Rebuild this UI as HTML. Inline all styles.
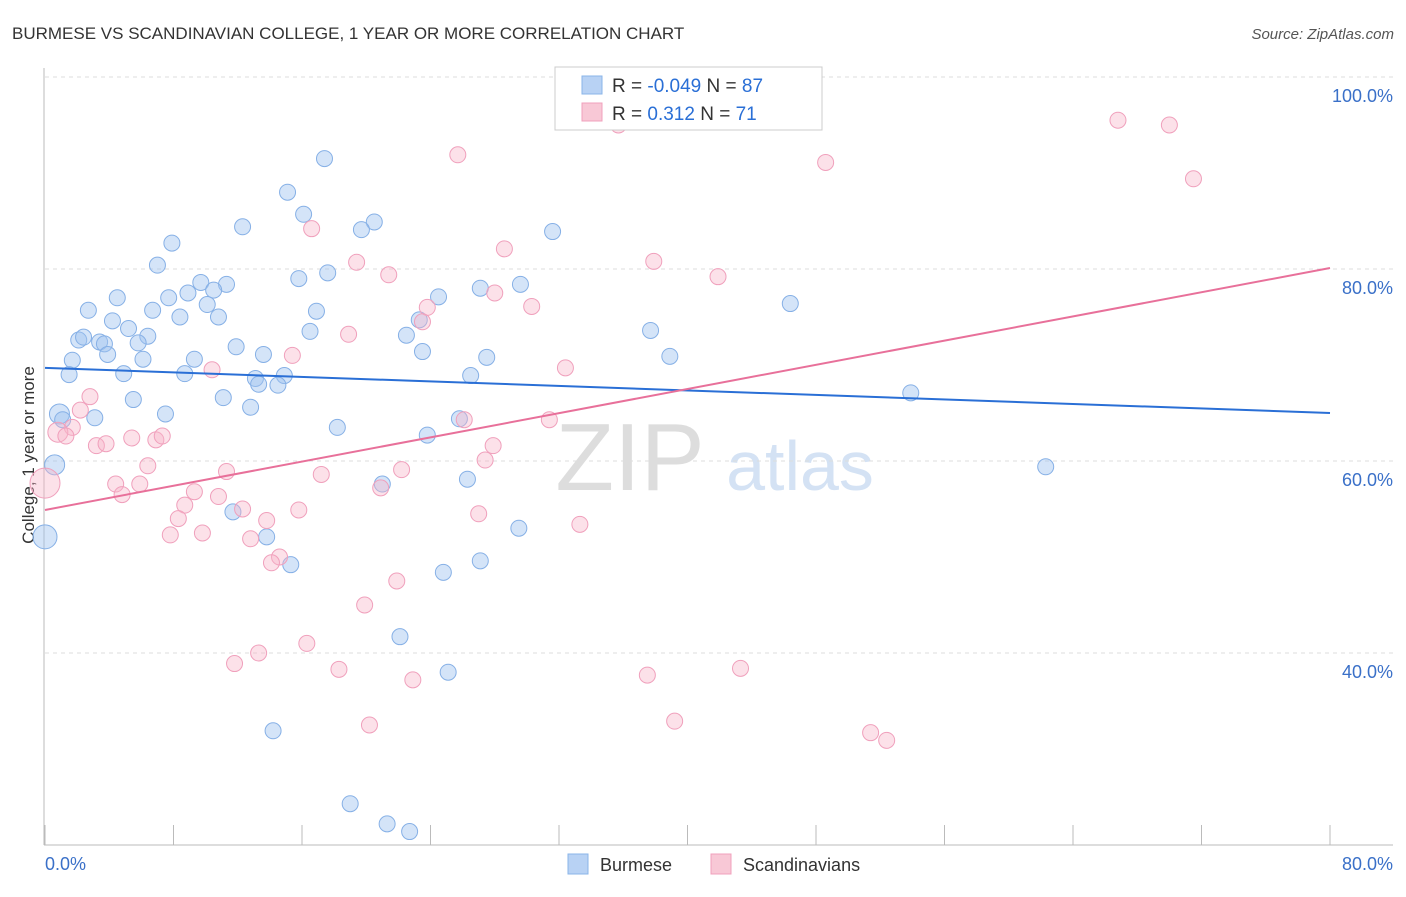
<!DOCTYPE html>
<html><head><meta charset="utf-8"><style>
body{margin:0;background:#fff;font-family:"Liberation Sans",sans-serif}
svg text{font-family:"Liberation Sans",sans-serif}
</style></head><body>
<svg id="c" width="1406" height="892">
<text x="12" y="39" font-size="17" fill="#333">BURMESE VS SCANDINAVIAN COLLEGE, 1 YEAR OR MORE CORRELATION CHART</text>
<text x="1394" y="39" font-size="15" fill="#555" font-style="italic" text-anchor="end">Source: ZipAtlas.com</text>
<text x="630" y="490" font-size="96" fill="#ddd" font-family="Liberation Serif" text-anchor="middle">ZIP</text>
<text x="800" y="490" font-size="70" fill="#d4e2f4" text-anchor="middle">atlas</text>
<text transform="translate(34,455) rotate(-90)" font-size="17" fill="#333" text-anchor="middle">College, 1 year or more</text>
<g id="grid"></g><g id="pts"></g><g id="lines"></g>
<g>
<rect x="555" y="67" width="267" height="63" fill="#fff" stroke="#ccc"/>
<rect x="582" y="76" width="20" height="18" fill="#b8d2f4" stroke="#8ab4e8"/>
<rect x="582" y="103" width="20" height="18" fill="#f8c8d6" stroke="#f0a0bc"/>
<text x="612" y="92" font-size="19" fill="#333">R = <tspan fill="#2a6fd6">-0.049</tspan>   N = <tspan fill="#2a6fd6">87</tspan></text>
<text x="612" y="120" font-size="19" fill="#333">R =    <tspan fill="#2a6fd6">0.312</tspan>   N =  <tspan fill="#2a6fd6">71</tspan></text>
</g>
<g>
<rect x="568" y="854" width="20" height="20" fill="#b8d2f4" stroke="#8ab4e8"/>
<text x="600" y="871" font-size="18" fill="#333">Burmese</text>
<rect x="711" y="854" width="20" height="20" fill="#f8c8d6" stroke="#f0a0bc"/>
<text x="743" y="871" font-size="18" fill="#333">Scandinavians</text>
</g>
</svg>
<script>
const xTicks=[0,8,16,24,32,40,48,56,64,72,80];
const yTicks=[40,60,80,100];
const yTickLabels=["40.0%","60.0%","80.0%","100.0%"];
const blueX=[32.3,17.4,15.1,16.1,20.5,19.7,12.3,31.6,7.9,7.0,17.6,15.8,9.7,11.3,10.5,8.9,7.7,4.5,27.1,29.6,24.5,10.1,6.7,8.4,2.7,10.8,16.9,4.2,5.2,6.4,2.1,2.4,3.4,3.7,5.8,16.5,22.5,23.3,37.7,46.4,11.9,3.9,1.7,6.1,9.3,13.6,23.5,27.5,38.9,1.5,4.9,8.7,13.1,14.9,13.3,14.5,26.5,11.1,5.5,12.8,53.9,0.9,3.1,7.5,25.8,18.2,23.8,0.6,62.3,26.3,21.0,11.7,29.5,0,13.8,15.3,24.8,27.1,22.1,25.1,14.2,19.0,21.3,22.7,1.1];
const blueY=[97.3,91.5,88.0,85.7,84.9,84.1,84.4,83.9,82.7,80.4,79.6,79.0,78.6,78.4,77.8,77.5,77.0,77.0,78.0,78.4,77.1,76.3,75.7,75.0,75.7,75.0,75.6,74.6,73.8,73.0,72.6,72.9,72.4,72.2,72.3,73.5,73.1,74.7,73.6,76.4,71.9,71.1,70.5,70.6,70.6,71.1,71.4,70.8,70.9,69.0,69.1,69.1,68.6,68.9,68.0,67.9,68.9,66.6,66.4,65.6,67.1,64.9,64.5,64.9,64.4,63.5,62.7,59.6,59.4,58.1,57.6,54.7,53.0,52.1,52.1,49.2,48.4,49.6,41.7,38.0,31.9,24.3,22.2,21.4,64.3];
const pinkX=[47.2,35.7,66.8,70.0,25.7,48.6,71.5,16.6,28.6,19.4,37.9,21.4,41.9,28.0,30.3,23.8,23.5,18.9,15.4,10.4,32.4,2.8,2.2,1.7,0.8,1.3,5.4,3.2,3.8,6.9,7.3,26.1,31.4,27.9,6.4,11.3,27.4,22.2,17.2,0,4.4,5.9,20.9,4.8,9.3,10.8,8.7,12.3,15.8,8.3,13.8,27.0,33.3,7.8,9.8,12.8,14.6,14.1,21.9,19.9,16.3,13.3,11.8,18.3,22.9,37.5,43.3,39.2,20.2,51.4,52.4];
const pinkY=[99.7,95.0,95.5,95.0,91.9,91.1,89.4,84.2,82.1,80.7,80.8,79.4,79.2,77.5,76.1,76.0,74.5,73.2,71.0,69.5,69.7,66.7,65.3,63.5,63.0,62.6,62.4,61.6,61.8,62.2,62.6,64.3,64.3,61.6,59.5,58.9,60.1,59.1,58.6,57.7,57.6,57.6,57.2,56.5,56.8,56.3,55.4,55.0,54.9,54.0,53.8,54.5,53.4,52.3,52.5,51.9,50.0,49.4,47.5,45.0,41.0,40.0,38.9,38.3,37.2,37.7,38.4,32.9,32.5,31.7,30.9];
const blueLine=[69.7,65.0];
const pinkLine=[54.9,80.1];
const big={blue:{0.0:12,0.6:10,0.9:10},pink:{0.0:15,0.8:10}};
const X=v=>45+v/80*1285, Y=v=>845-(v-20)*9.6;
const NS="http://www.w3.org/2000/svg";
function mk(p,t,a){const e=document.createElementNS(NS,t);for(const k in a)e.setAttribute(k,a[k]);p.appendChild(e);return e;}
const g=document.getElementById('grid');
yTicks.forEach((v,i)=>{
 const l=mk(g,'line',{x1:45,x2:1393,y1:Y(v),y2:Y(v),stroke:'#ddd','stroke-dasharray':'4,4'});
 
 
 const t=mk(g,'text',{x:1393,y:Y(v)+25,'font-size':18,fill:'#3a70c8','text-anchor':'end'});t.textContent=yTickLabels[i];
 
 
});
mk(g,'line',{x1:44,x2:44,y1:68,y2:845,stroke:'#bbb'});
const ax=mk(g,'line',{x1:44,x2:1393,y1:845,y2:845,stroke:'#bbb'});


xTicks.forEach(v=>{const t=mk(g,'line',{x1:X(v),x2:X(v),y1:825,y2:845,stroke:'#bbb'});
 
 });
const t0=mk(g,'text',{x:45,y:870,'font-size':18,fill:'#3a70c8'});t0.textContent='0.0%';


const t1=mk(g,'text',{x:1393,y:870,'font-size':18,fill:'#3a70c8','text-anchor':'end'});t1.textContent='80.0%';


const P=document.getElementById('pts');
function pts(xs,ys,fill,stroke,name,bg){xs.forEach((x,i)=>{
 let r=8; if(bg[x]!==undefined && ys[i]<66) r=bg[x];
 const c=mk(P,'circle',{cx:X(x),cy:Y(ys[i]),r:r,fill:fill,stroke:stroke,'stroke-width':1});
 
 
});}
pts(blueX,blueY,'rgba(160,196,240,0.45)','#86b0e6','burmese-point',big.blue);
pts(pinkX,pinkY,'rgba(248,180,200,0.4)','#f0a0bc','scandinavian-point',big.pink);
const L=document.getElementById('lines');
const bl=mk(L,'line',{x1:X(0),x2:X(80),y1:Y(blueLine[0]),y2:Y(blueLine[1]),stroke:'#2a6fd6','stroke-width':2});


const pl=mk(L,'line',{x1:X(0),x2:X(80),y1:Y(pinkLine[0]),y2:Y(pinkLine[1]),stroke:'#e8709a','stroke-width':2});


</script>
</body></html>
